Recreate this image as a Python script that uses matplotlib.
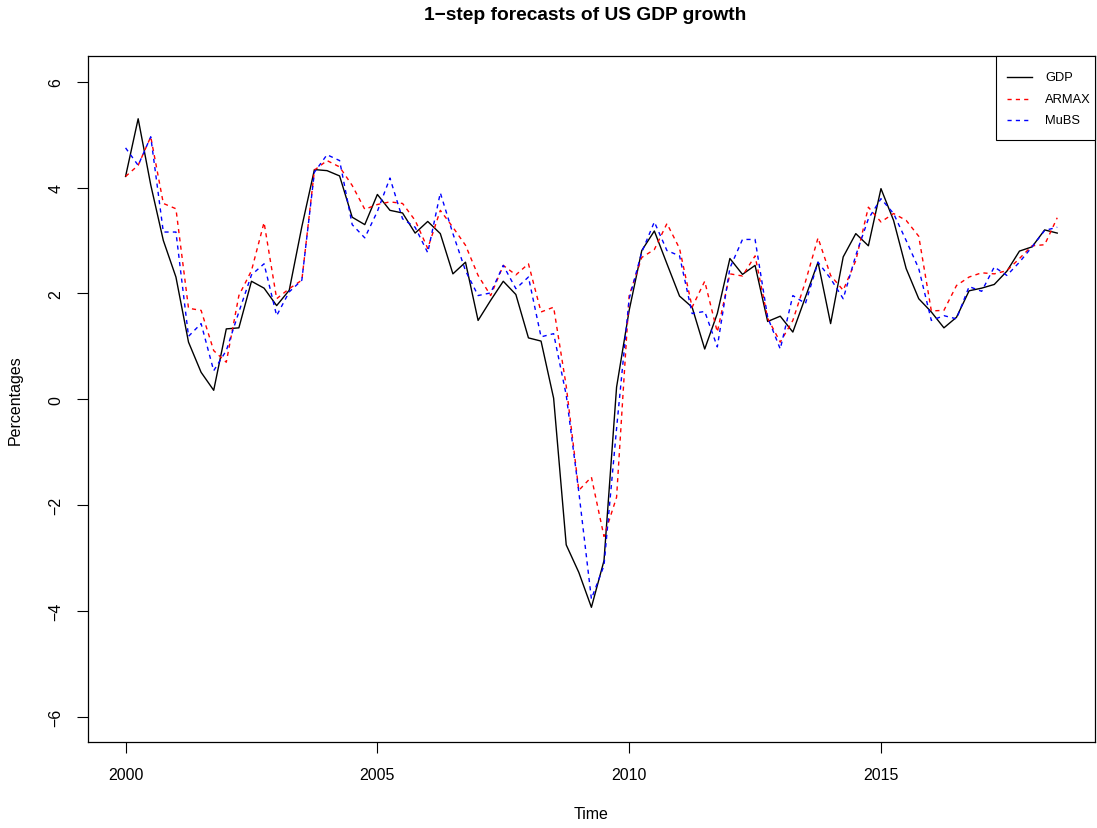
import numpy as np
import matplotlib
matplotlib.use("Agg")
import matplotlib.pyplot as plt
from matplotlib.patches import Rectangle
from matplotlib.lines import Line2D

plt.rcParams['font.family'] = ['Liberation Sans', 'DejaVu Sans']

# Quarterly series, 2000Q1 - 2018Q3 (annualised growth, %)
start_year = 2000
freq = 4

gdp = [4.21, 5.30, 4.05, 3.00, 2.31, 1.08, 0.51, 0.17, 1.33, 1.35,
       2.23, 2.10, 1.77, 2.06, 3.26, 4.34, 4.32, 4.22, 3.44, 3.30,
       3.87, 3.57, 3.52, 3.14, 3.36, 3.13, 2.37, 2.59, 1.49, 1.87,
       2.23, 1.98, 1.16, 1.10, 0.02, -2.75, -3.27, -3.93, -3.05, 0.23,
       1.68, 2.81, 3.18, 2.56, 1.95, 1.74, 0.95, 1.62, 2.66, 2.36,
       2.53, 1.47, 1.57, 1.27, 1.93, 2.59, 1.43, 2.69, 3.13, 2.90,
       3.98, 3.38, 2.47, 1.90, 1.65, 1.35, 1.55, 2.05, 2.10, 2.17,
       2.42, 2.80, 2.88, 3.20, 3.14]

armax = [4.21, 4.42, 4.96, 3.70, 3.60, 1.72, 1.68, 0.92, 0.70, 1.96,
         2.43, 3.34, 1.90, 2.09, 2.25, 4.33, 4.51, 4.39, 4.04, 3.59,
         3.68, 3.73, 3.70, 3.38, 2.85, 3.57, 3.25, 2.91, 2.34, 1.96,
         2.53, 2.35, 2.56, 1.65, 1.74, 0.25, -1.72, -1.47, -2.59, -1.85,
         1.96, 2.68, 2.83, 3.32, 2.85, 1.74, 2.23, 1.27, 2.37, 2.33,
         2.71, 1.53, 1.08, 1.49, 2.22, 3.05, 2.34, 2.06, 2.62, 3.63,
         3.35, 3.51, 3.38, 3.08, 1.67, 1.68, 2.15, 2.31, 2.39, 2.37,
         2.43, 2.66, 2.90, 2.92, 3.43]

mubs = [4.75, 4.42, 4.96, 3.16, 3.16, 1.19, 1.43, 0.54, 0.92, 1.65,
        2.35, 2.56, 1.58, 2.03, 2.25, 4.29, 4.62, 4.51, 3.30, 3.05,
        3.55, 4.18, 3.41, 3.25, 2.77, 3.90, 3.13, 2.43, 1.96, 2.01,
        2.53, 2.09, 2.31, 1.18, 1.24, 0.08, -1.75, -3.77, -3.14, -0.55,
        1.90, 2.78, 3.35, 2.81, 2.71, 1.62, 1.66, 0.99, 2.48, 3.02,
        3.02, 1.55, 0.95, 1.96, 1.81, 2.59, 2.28, 1.90, 2.72, 3.41,
        3.79, 3.51, 3.00, 2.47, 1.49, 1.58, 1.52, 2.13, 2.04, 2.50,
        2.34, 2.59, 2.88, 3.19, 3.25]

series_names = ["GDP", "ARMAX", "MuBS"]
series_colors = ["black", "#FF0000", "#0000FF"]
series_dashes = [None, (3, 3), (3, 3)]
x_ticks = [2000, 2005, 2010, 2015]
y_ticks = [-6, -4, -2, 0, 2, 4, 6]

time = start_year + np.arange(len(gdp)) / freq

W, H = 1097, 829
fig = plt.figure(figsize=(W / 100, H / 100), dpi=100)
left, right, top, bottom = 88.3, 1094.5, 57.3, 743.3
ax = fig.add_axes([left / W, 1 - bottom / H, (right - left) / W, (bottom - top) / H])

for vals, name, col, dsh in zip([gdp, armax, mubs], series_names,
                                series_colors, series_dashes):
    kw = {} if dsh is None else {"dashes": dsh}
    ax.plot(time, vals, color=col, lw=1.0, label=name, **kw)

# R-style 4% axis expansion
xr = time[-1] - time[0]
ax.set_xlim(time[0] - 0.04 * xr, time[-1] + 0.04 * xr)
ax.set_ylim(-6.48, 6.48)

ax.set_xticks(x_ticks)
ax.set_xticklabels([str(t) for t in x_ticks])
ax.set_yticks(y_ticks)
ax.set_yticklabels([str(t).replace("-", "\u2212") for t in y_ticks],
                   rotation=90, va="center")
ax.tick_params(direction="out", length=7.7, width=0.8, labelsize=11.5,
               pad=10, color="black")
for sp in ax.spines.values():
    sp.set_linewidth(0.9)
    sp.set_color("black")


# Legend box in the top-right corner, laid out in figure pixels
def px(x, y):
    return x / W, 1 - y / H


lx0, ly0 = px(996, 141)
lx1, ly1 = px(1094.5, 57.3)
fig.add_artist(Rectangle((lx0, ly0), lx1 - lx0, ly1 - ly0,
                         transform=fig.transFigure, facecolor="white",
                         edgecolor="black", lw=0.8, zorder=5))
for row, (name, col, dsh) in enumerate(zip(series_names, series_colors,
                                           series_dashes)):
    yy = 78.3 + row * 21.4
    xa, ya = px(1007.3, yy)
    xb, _ = px(1032.3, yy)
    kw = {} if dsh is None else {"dashes": dsh}
    fig.add_artist(Line2D([xa, xb], [ya, ya], transform=fig.transFigure,
                          color=col, lw=1.0, zorder=6, **kw))
    tx, ty = px(1045, yy)
    fig.text(tx, ty, name, ha="left", va="center", fontsize=9.3, zorder=6)

fig.text(585.5 / W, 1 - 16 / H, "1\u2212step forecasts of US GDP growth",
         ha="center", va="center", fontsize=13.8, fontweight="bold")
cx = (left + right) / 2 / W
fig.text(cx, 1 - 815 / H, "Time", ha="center", va="center", fontsize=11.5)
fig.text(15 / W, 1 - (top + bottom) / 2 / H, "Percentages", ha="center",
         va="center", rotation=90, fontsize=11.5)

fig.savefig("out.png", dpi=100)
